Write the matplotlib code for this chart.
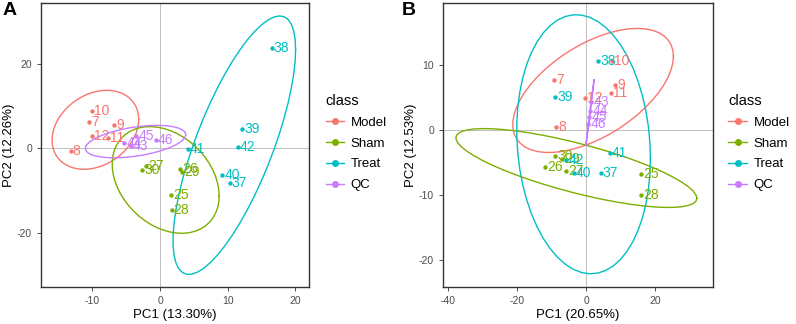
import numpy as np
import matplotlib
matplotlib.use("Agg")
import matplotlib.pyplot as plt
from matplotlib.lines import Line2D

plt.rcParams['font.family'] = ['Liberation Sans', 'DejaVu Sans']
plt.rcParams['axes.unicode_minus'] = False

classes = ["Model", "Sham", "Treat", "QC"]
colors = ["#F8766D", "#7CAE00", "#00BFC4", "#C77CFF"]

# panel A scores
a_model_ids = ["10", "7", "9", "12", "11", "8"]
a_model_pc1 = [-10.1, -10.5, -6.8, -10.0, -7.7, -13.2]
a_model_pc2 = [8.9, 6.3, 5.5, 3.0, 2.5, -0.6]
a_sham_ids = ["27", "30", "26", "29", "25", "28"]
a_sham_pc1 = [-2.1, -2.6, 3.0, 3.3, 1.6, 1.7]
a_sham_pc2 = [-4.2, -5.2, -4.9, -5.7, -11.1, -14.7]
a_treat_ids = ["38", "39", "42", "41", "40", "37"]
a_treat_pc1 = [16.5, 12.1, 11.5, 4.1, 9.2, 10.3]
a_treat_pc2 = [23.8, 4.7, 0.4, -0.2, -6.2, -8.2]
a_qc_ids = ["45", "44", "43", "46"]
a_qc_pc1 = [-3.5, -5.3, -4.3, -0.6]
a_qc_pc2 = [2.9, 1.3, 0.5, 2.0]

# panel B scores
b_model_ids = ["10", "7", "9", "11", "12", "8"]
b_model_pc1 = [7.6, -9.3, 8.4, 7.2, -0.4, -8.6]
b_model_pc2 = [10.6, 7.7, 6.9, 5.6, 4.9, 0.45]
b_sham_ids = ["30", "29", "26", "27", "25", "28"]
b_sham_pc1 = [-9.0, -7.0, -11.9, -5.7, 15.9, 15.9]
b_sham_pc2 = [-4.0, -4.5, -5.7, -6.4, -6.8, -10.1]
b_treat_ids = ["38", "39", "41", "37", "42", "40"]
b_treat_pc1 = [3.5, -9.0, 6.9, 4.2, -5.8, -3.5]
b_treat_pc2 = [10.6, 5.0, -3.6, -6.7, -4.7, -6.6]
b_qc_ids = ["43", "44", "45", "46"]
b_qc_pc1 = [1.5, 1.2, 1.0, 0.7]
b_qc_pc2 = [4.2, 2.9, 1.9, 0.9]


def cov_trob(x, nu=5, maxit=25, tol=0.01):
    # same as MASS::cov.trob, used by stat_ellipse(type = "t")
    n, p = x.shape
    wt = np.ones(n)
    loc = x.mean(axis=0)
    w = np.sqrt(wt)
    for _ in range(maxit):
        w0 = w
        X = x - loc
        sw = np.sqrt(w / w.sum())
        _, d, vt = np.linalg.svd(sw[:, None] * X, full_matrices=False)
        wX = X @ vt.T @ np.diag(1 / d)
        Q = (wX ** 2).sum(axis=1)
        w = wt * (nu + p) / (nu + Q)
        loc = (w[:, None] * x).sum(axis=0) / w.sum()
        if np.all(np.abs(w - w0) < tol):
            break
    sX = np.sqrt(w)[:, None] * X
    return loc, sX.T @ sX / wt.sum()


def ellipse(px, py, level=0.95, segments=51):
    x = np.column_stack([px, py])
    center, shape = cov_trob(x)
    dfd = len(px) - 1
    qf = dfd / 2 * ((1 - level) ** (-2 / dfd) - 1)  # F quantile, df1 = 2
    radius = np.sqrt(2 * qf)
    chol = np.linalg.cholesky(shape).T
    ang = np.linspace(0, 2 * np.pi, segments + 1)
    circ = np.column_stack([np.cos(ang), np.sin(ang)])
    e = center + radius * circ @ chol
    return e[:, 0], e[:, 1]


def draw_panel(ax, groups, xlim, ylim, xticks, yticks, xlabel, ylabel):
    ax.axhline(0, color="#BEBEBE", lw=0.7, zorder=0)
    ax.axvline(0, color="#BEBEBE", lw=0.7, zorder=0)
    for (ids, px, py), col in zip(groups, colors):
        ex, ey = ellipse(px, py)
        ax.plot(ex, ey, color=col, lw=1.0)
        ax.scatter(px, py, s=10, color=col, zorder=3, linewidths=0)
        for t, xx, yy in zip(ids, px, py):
            ax.annotate(t, (xx, yy), xytext=(1.5, 0), textcoords="offset points",
                        ha="left", va="center", color=col, fontsize=10)
    ax.set_xlim(xlim)
    ax.set_ylim(ylim)
    ax.set_xticks(xticks)
    ax.set_yticks(yticks)
    ax.tick_params(labelsize=7.5, colors="#333333", labelcolor="#4D4D4D",
                   length=3, width=0.6)
    for s in ax.spines.values():
        s.set_color("#333333")
        s.set_linewidth(1.0)
    ax.set_xlabel(xlabel, fontsize=9.5, labelpad=2)
    ax.set_ylabel(ylabel, fontsize=9.5, labelpad=1)


fig = plt.figure(figsize=(7.96, 3.24), dpi=100)
axA = fig.add_axes([0.0515, 0.114, 0.3365, 0.877])
axB = fig.add_axes([0.5565, 0.114, 0.3392, 0.877])

draw_panel(axA,
           [(a_model_ids, a_model_pc1, a_model_pc2), (a_sham_ids, a_sham_pc1, a_sham_pc2),
            (a_treat_ids, a_treat_pc1, a_treat_pc2), (a_qc_ids, a_qc_pc1, a_qc_pc2)],
           (-17.6, 22.0), (-32.9, 34.5), [-10, 0, 10, 20], [-20, 0, 20],
           "PC1 (13.30%)", "PC2 (12.26%)")
draw_panel(axB,
           [(b_model_ids, b_model_pc1, b_model_pc2), (b_sham_ids, b_sham_pc1, b_sham_pc2),
            (b_treat_ids, b_treat_pc1, b_treat_pc2), (b_qc_ids, b_qc_pc1, b_qc_pc2)],
           (-41.6, 36.9), (-24.2, 19.5), [-40, -20, 0, 20], [-20, -10, 0, 10],
           "PC1 (20.65%)", "PC2 (12.53%)")

handles = [Line2D([], [], color=c, marker="o", markersize=4, lw=1.0) for c in colors]
for ax, xpos in [(axA, 0.409), (axB, 0.915)]:
    fig.legend(handles, classes, title="class", loc="upper left",
               bbox_to_anchor=(xpos, 0.71), frameon=False, fontsize=9.5,
               title_fontsize=10.5, handlelength=1.4, labelspacing=0.65,
               handletextpad=0.5, borderaxespad=0, borderpad=0,
               alignment="left")

fig.text(0.003, 0.995, "A", fontsize=14, fontweight="bold", va="top")
fig.text(0.505, 0.995, "B", fontsize=14, fontweight="bold", va="top")

fig.savefig("out.png", dpi=100)
